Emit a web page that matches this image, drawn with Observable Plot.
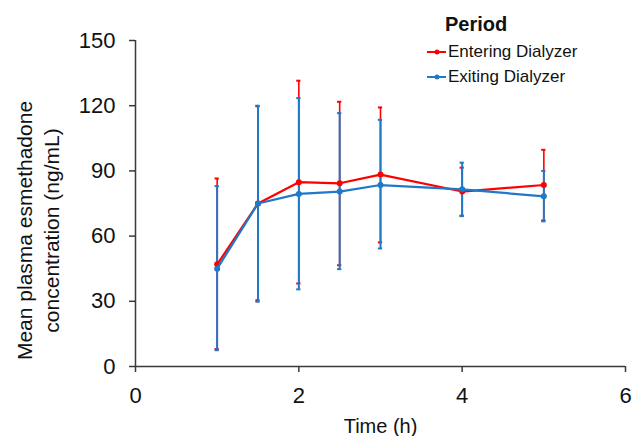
<!DOCTYPE html>
<html>
<head>
<meta charset="utf-8">
<script src="https://cdn.jsdelivr.net/npm/d3@7"></script>
<script src="https://cdn.jsdelivr.net/npm/@observablehq/plot@0.6"></script>
<style>
  html, body { margin: 0; padding: 0; background: #fff; }
  #wrap { position: relative; width: 633px; height: 436px; font-family: "Liberation Sans", Arial, sans-serif; }
  #legend { position: absolute; left: 0; top: 0; width: 633px; height: 100px; pointer-events: none; }
  .ltitle { position: absolute; left: 445px; top: 13px; font-size: 20px; font-weight: bold; color: #111; }
  .litem { position: absolute; left: 427px; height: 20px; display: flex; align-items: center; font-size: 17px; color: #111; }
  .litem svg { margin-right: 1px; }
</style>
</head>
<body>
<div id="wrap"></div>
<script>
const times = [1, 1.5, 2, 2.5, 3, 4, 5];
const seriesNames = ["Entering Dialyzer", "Exiting Dialyzer"];
const seriesColors = ["#ff0000", "#1f78c8"];
const enteringMean = [47, 75, 84.8, 84.3, 88.3, 80.5, 83.5];
const enteringLow  = [8, 30.5, 38.2, 46.6, 57.1, 69.4, 67.2];
const enteringHigh = [86.5, 119.7, 131.5, 121.8, 119.2, 91.5, 99.7];
const exitingMean  = [45, 75, 79.4, 80.5, 83.5, 81.5, 78.3];
const exitingLow   = [7.5, 29.8, 35.5, 44.8, 54.3, 69.2, 66.8];
const exitingHigh  = [83, 120, 123.5, 116.6, 113.5, 93.8, 90];
const xTicks = [0, 2, 4, 6];
const yTicks = [0, 30, 60, 90, 120, 150];
const xLabel = "Time (h)";
const yLabel = "Mean plasma esmethadone\nconcentration (ng/mL)";
const legendTitle = "Period";

function rows(name, mean, lo, hi) {
  return times.map((t, i) => ({series: name, t, mean: mean[i], lo: lo[i], hi: hi[i]}));
}
const ent = rows(seriesNames[0], enteringMean, enteringLow, enteringHigh);
const ext = rows(seriesNames[1], exitingMean, exitingLow, exitingHigh);
const capHalf = 0.026;
const axisColor = "#3a3a3a";

function errMarks(data, color, w) {
  return [
    Plot.ruleX(data, {x: "t", y1: "lo", y2: "hi", stroke: color, strokeWidth: w}),
    Plot.ruleY(data, {y: "hi", x1: d => d.t - capHalf, x2: d => d.t + capHalf, stroke: color, strokeWidth: 2}),
    Plot.ruleY(data, {y: "lo", x1: d => d.t - capHalf, x2: d => d.t + capHalf, stroke: color, strokeWidth: 2})
  ];
}
function lineMarks(data, color) {
  return [
    Plot.line(data, {x: "t", y: "mean", stroke: color, strokeWidth: 2.2}),
    Plot.dot(data, {x: "t", y: "mean", fill: color, r: 3})
  ];
}

const chart = Plot.plot({
  width: 633,
  height: 436,
  marginLeft: 135,
  marginRight: 8,
  marginTop: 40,
  marginBottom: 70,
  style: {fontFamily: "'Liberation Sans', Arial, sans-serif", fontSize: "22px", color: "#111", background: "#fff"},
  x: {domain: [0, 6]},
  y: {domain: [0, 150]},
  marks: [
    Plot.axisX({ticks: xTicks, tickSize: 6, tickPadding: 15, fontSize: 22, label: null, stroke: axisColor, strokeWidth: 1.5, tickFormat: d => d}),
    Plot.axisY({ticks: yTicks, tickSize: 6, tickPadding: 14, fontSize: 22, label: null, stroke: axisColor, strokeWidth: 1.5, tickFormat: d => d}),
    Plot.ruleY([0], {stroke: axisColor, strokeWidth: 1.5}),
    Plot.ruleX([0], {stroke: axisColor, strokeWidth: 1.5}),
    Plot.text([xLabel], {frameAnchor: "bottom", dy: 60, fontSize: 20, lineAnchor: "middle", fill: "#111"}),
    Plot.text([yLabel], {frameAnchor: "left", textAnchor: "middle", rotate: -90, dx: -99, dy: 27, fontSize: 21, lineHeight: 1.3, lineAnchor: "middle", fill: "#111"}),
    ...errMarks(ent, seriesColors[0], 1.6),
    ...errMarks(ext, seriesColors[1], 2),
    ...lineMarks(ent, seriesColors[0]),
    ...lineMarks(ext, seriesColors[1])
  ]
});

const wrap = document.getElementById("wrap");
wrap.appendChild(chart);

const legend = document.createElement("div");
legend.id = "legend";
let html = `<div class="ltitle">${legendTitle}</div>`;
const tops = [42, 67];
seriesNames.forEach((name, i) => {
  html += `<div class="litem" style="top:${tops[i]}px"><svg width="20" height="10"><line x1="0" y1="5" x2="19" y2="5" stroke="${seriesColors[i]}" stroke-width="2"/><circle cx="10" cy="5" r="2.5" fill="${seriesColors[i]}"/></svg><span>${name}</span></div>`;
});
legend.innerHTML = html;
wrap.appendChild(legend);
</script>
</body>
</html>
